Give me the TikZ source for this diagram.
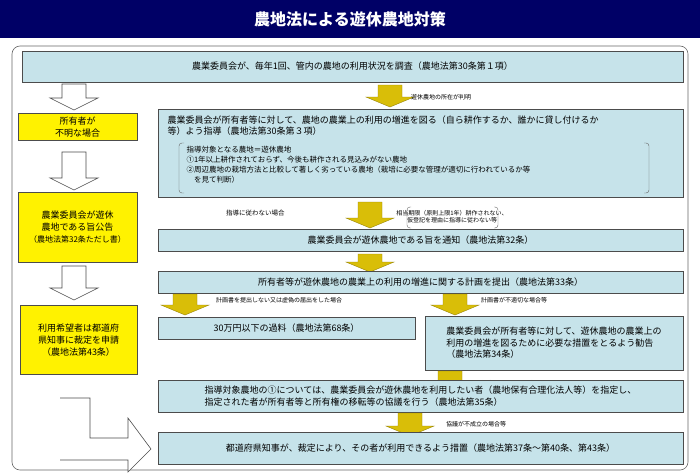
\documentclass[tikz,border=0pt]{standalone}
\usepackage{fontspec}
\setmainfont{Noto Sans CJK JP}
\begin{document}
\begin{tikzpicture}[x=1pt,y=-1pt,
  bx/.style={draw=black!70,line width=0.8pt,fill=boxc,inner sep=2pt},
  yb/.style={draw=black!70,line width=0.8pt,fill=yellow,align=center,font=\fontsize{9}{12}\selectfont},
  lbl/.style={font=\fontsize{6}{7}\selectfont,anchor=west,inner sep=1pt},
  txt/.style={font=\fontsize{9}{11.5}\selectfont},
  brk/.style={draw=black!60,rounded corners=3pt}]
\definecolor{boxc}{HTML}{C6E3EA}
\definecolor{ya}{HTML}{D9BE08}
\newcommand\yarr[3]{\fill[ya,draw=ya!70!black,line width=0.4pt] (#1-12,#2)--(#1+12,#2)--(#1+12,#3-10)--(#1+24,#3-10)--(#1,#3)--(#1-24,#3-10)--(#1-12,#3-10)--cycle;}
\newcommand\warr[3]{\draw[fill=white,draw=black!70,line width=0.6pt] (#1-12,#2)--(#1+12,#2)--(#1+12,#3-12)--(#1+24,#3-12)--(#1,#3)--(#1-24,#3-12)--(#1-12,#3-12)--cycle;}
\useasboundingbox (0,0) rectangle (700,474);
\fill[white] (0,0) rectangle (700,474);
\fill[blue!40!black] (0,0) rectangle (700,38);
\node[white,font=\bfseries\fontsize{16}{18}\selectfont] (title) at (350,19) {農地法による遊休農地対策};
\draw[black!60,rounded corners=8pt,line width=0.6pt] (12,46) rectangle (688,470);
% top box
\node[bx,minimum width=661,minimum height=31,txt] (b1) at (352.5,66.5) {農業委員会が、毎年1回、管内の農地の利用状況を調査（農地法第30条第１項）};
\yarr{390}{85}{107}
\node[lbl] (l1) at (410,97) {遊休農地の所在が判明};
% box2
\node[bx,minimum width=525,minimum height=88] (b2) at (420.5,153) {};
\node[txt,anchor=north west,align=left] (b2t) at (164,112) {農業委員会が所有者等に対して、農地の農業上の利用の増進を図る（自ら耕作するか、誰かに貸し付けるか\\等）よう指導（農地法第30条第３項）};
\node[font=\fontsize{7.5}{10}\selectfont,anchor=north west,align=left] (b2s) at (183,143) {指導対象となる農地＝遊休農地\\①1年以上耕作されておらず、今後も耕作される見込みがない農地\\②周辺農地の栽培方法と比較して著しく劣っている農地（栽培に必要な管理が適切に行われているか等\\\hspace*{1em}を見て判断）};
\draw[brk] (184,143)--(179,143)--(179,193)--(184,193);
\draw[brk] (644,143)--(649,143)--(649,193)--(644,193);
% left column
\warr{74}{84}{110}
\node[yb,minimum width=119,minimum height=27] (y1) at (77.5,127) {所有者が\\不明な場合};
\warr{74}{152}{190}
\node[yb,minimum width=119,minimum height=70] (y2) at (77.5,227) {農業委員会が遊休\\農地である旨公告\\{\fontsize{8}{11}\selectfont（農地法第32条ただし書）}};
\warr{74}{266}{300}
\node[yb,minimum width=117,minimum height=69] (y3) at (78.5,340) {利用希望者は都道府\\県知事に裁定を申請\\（農地法第43条）};
\draw[fill=white,draw=black!70,line width=0.6pt] (60,398)--(90,398)--(90,438)--(128,438)--(128,418)--(151,449)--(128,472)--(128,460)--(60,460);
% middle flow
\node[lbl,font=\fontsize{6.5}{8}\selectfont] (l2) at (225,213) {指導に従わない場合};
\yarr{370}{202}{228}
\node[lbl,align=center,anchor=center] (l3) at (452,217) {相当期限（原則上限1年）耕作されない、\\仮登記を理由に指導に従わない等};
\draw[brk] (411,207)--(407,207)--(407,228)--(411,228);
\draw[brk] (494,207)--(498,207)--(498,228)--(494,228);
\node[bx,minimum width=525,minimum height=22,txt] (b3) at (420.5,240) {農業委員会が遊休農地である旨を通知（農地法第32条）};
\yarr{370}{254}{272}
\node[bx,minimum width=525,minimum height=22,txt] (b4) at (420.5,282) {所有者等が遊休農地の農業上の利用の増進に関する計画を提出（農地法第33条）};
\yarr{185}{294}{315}
\node[lbl] (l4) at (215,300) {計画書を提出しない又は虚偽の届出をした場合};
\yarr{455}{294}{315}
\node[lbl] (l5) at (480,300) {計画書が不適切な場合等};
\node[bx,minimum width=257,minimum height=22,txt] (b5) at (286.5,328) {30万円以下の過料（農地法第68条）};
\node[bx,minimum width=258,minimum height=54,txt,align=left] (b6) at (554,343) {農業委員会が所有者等に対して、遊休農地の農業上の\\利用の増進を図るために必要な措置をとるよう勧告\\（農地法第34条）};
\yarr{450}{371}{393}
\node[lbl] (l6) at (480,383) {勧告に従わない場合};
\node[bx,minimum width=525,minimum height=32,txt,align=left] (b7) at (420.5,396) {指導対象農地の①については、農業委員会が遊休農地を利用したい者（農地保有合理化法人等）を指定し、\\指定された者が所有者等と所有権の移転等の協議を行う（農地法第35条）};
\yarr{410}{413}{436}
\node[lbl] (l7) at (445,424) {協議が不成立の場合等};
\node[bx,minimum width=525,minimum height=32,txt] (b8) at (420.5,448) {都道府県知事が、裁定により、その者が利用できるよう措置（農地法第37条～第40条、第43条）};
\end{tikzpicture}
\end{document}
